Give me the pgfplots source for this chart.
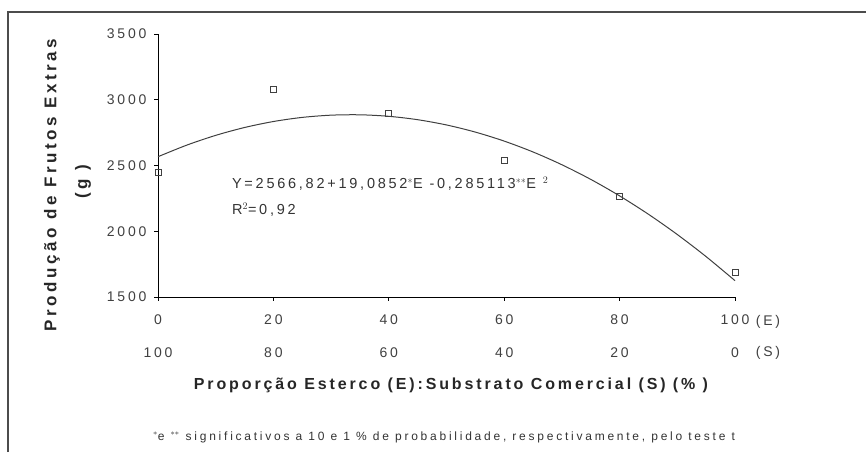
\documentclass[border=0pt]{standalone}
\usepackage{pgfplots}
\pgfplotsset{compat=1.18}
\usepackage{fontspec}
\setmainfont{Liberation Sans}
\newfontfamily\lblfont[LetterSpace=18]{Liberation Sans}
\newfontfamily\ylblfont[LetterSpace=21]{Liberation Sans}
\newfontfamily\notefont[LetterSpace=23]{Liberation Sans}
\newfontfamily\tickfont[LetterSpace=20]{Liberation Sans}
\newfontfamily\eqfont[LetterSpace=19]{Liberation Sans}
\begin{document}
\begin{tikzpicture}[x=1pt,y=1pt]
\useasboundingbox (0,0) rectangle (866,452);
\draw[line width=1.6pt, black!70] (8,0) -- (8,440) -- (866,440);
\begin{axis}[
  at={(158pt,155pt)}, anchor=south west,
  scale only axis, width=577pt, height=263pt,
  xmin=0, xmax=100, ymin=1500, ymax=3500,
  axis x line*=bottom, axis y line*=left,
  axis line style={black, line width=0.9pt, -},
  xtick={0,20,40,60,80,100},
  xticklabels={0,20,40,60,80,100},
  ytick={1500,2000,2500,3000,3500},
  tick align=outside, major tick length=4pt,
  tick style={black, line width=0.8pt},
  /pgf/number format/assume math mode=true,
  /pgf/number format/1000 sep={},
  ticklabel style={font=\tickfont\fontsize{14}{16}\selectfont, text=black!75},
  xticklabel style={yshift=-10pt},
  yticklabel style={xshift=-4pt},
  clip=false,
]
\addplot[black!75, line width=1pt, smooth] coordinates {
(0,2566.82) (5,2655.12) (10,2729.16) (15,2788.95) (20,2834.48) (25,2865.75)
(30,2882.77) (35,2885.54) (40,2874.05) (45,2848.30) (50,2808.30) (55,2754.04)
(60,2685.53) (65,2602.76) (70,2505.73) (75,2394.45) (80,2268.91) (85,2129.12)
(90,1975.07) (95,1806.77) (100,1624.21)};
\addplot[only marks, mark=square, mark size=3pt, black!75, line width=0.8pt, mark options={fill=white}] coordinates {
(0,2450) (20,3080) (40,2895) (60,2535) (80,2262) (100,1685)};
\node[font=\tickfont\fontsize{14}{16}\selectfont, text=black!75, yshift=-56pt] at (axis cs:0,1500) {100};
\node[font=\tickfont\fontsize{14}{16}\selectfont, text=black!75, yshift=-56pt] at (axis cs:20,1500) {80};
\node[font=\tickfont\fontsize{14}{16}\selectfont, text=black!75, yshift=-56pt] at (axis cs:40,1500) {60};
\node[font=\tickfont\fontsize{14}{16}\selectfont, text=black!75, yshift=-56pt] at (axis cs:60,1500) {40};
\node[font=\tickfont\fontsize{14}{16}\selectfont, text=black!75, yshift=-56pt] at (axis cs:80,1500) {20};
\node[font=\tickfont\fontsize{14}{16}\selectfont, text=black!75, yshift=-56pt] at (axis cs:100,1500) {0};
\node[font=\tickfont\fontsize{14}{16}\selectfont, text=black!75, xshift=33pt, yshift=-25pt] at (axis cs:100,1500) {(E)};
\node[font=\tickfont\fontsize{14}{16}\selectfont, text=black!75, xshift=33pt, yshift=-56pt] at (axis cs:100,1500) {(S)};
\node[anchor=west, font=\eqfont\fontsize{14.5}{16}\selectfont, text=black!80, inner sep=0pt] at (axis cs:12.8,2359) {Y=2566,82+19,0852$^{*}$E -0,285113$^{**}$E $^{2}$};
\node[anchor=west, font=\eqfont\fontsize{14.5}{16}\selectfont, text=black!80, inner sep=0pt] at (axis cs:12.8,2162) {R$^{2}$=0,92};
\end{axis}
\node[rotate=90, font=\ylblfont\bfseries\fontsize{17}{19}\selectfont, text=black!85] at (52,267) {Produção de Frutos Extras};
\node[rotate=90, font=\ylblfont\bfseries\fontsize{17}{19}\selectfont, text=black!85] at (83,270) {(g )};
\node[font=\lblfont\bfseries\fontsize{16}{18}\selectfont, text=black!85] at (451,67) {Proporção Esterco (E):Substrato Comercial (S) (\% )};
\node[font=\notefont\fontsize{12}{14}\selectfont, text=black!80] at (444,15) {$^{*}$e $^{**}$ significativos a 10 e 1 \% de probabilidade, respectivamente, pelo teste t};
\end{tikzpicture}
\end{document}
